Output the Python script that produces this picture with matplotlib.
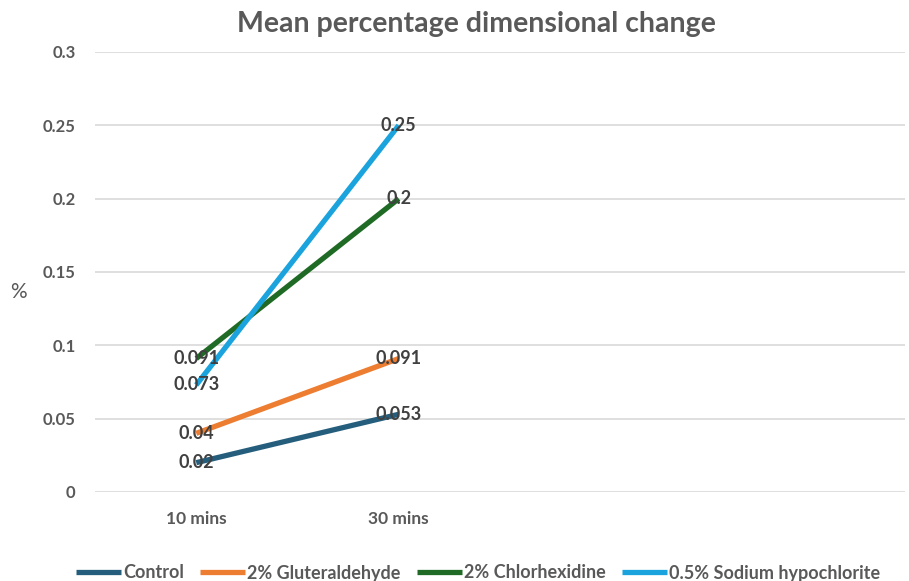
import matplotlib
matplotlib.use("Agg")
from matplotlib import pyplot as plt

plt.rcParams['font.family'] = ['Lato', 'DejaVu Sans']

categories = ["10 mins", "30 mins", "", ""]
series_names = ["Control", "2% Gluteraldehyde", "2% Chlorhexidine", "0.5% Sodium hypochlorite"]
control = [0.02, 0.053]
gluteraldehyde = [0.04, 0.091]
chlorhexidine = [0.091, 0.2]
hypochlorite = [0.073, 0.25]
colors = ["#255E7C", "#ED7D31", "#1F6B25", "#1AA3DD"]

fig = plt.figure(figsize=(9.09, 5.81), dpi=100)
ax = fig.add_axes([95/909, 1-492/581, 810/909, 440/581])

x = list(range(len(categories)))
for name, vals, c in zip(series_names, [control, gluteraldehyde, chlorhexidine, hypochlorite], colors):
    ax.plot(x[:len(vals)], vals, color=c, lw=3.8, label=name, solid_capstyle='butt')
    for xi, v in zip(x, vals):
        ax.text(xi, v, f"{v:g}", ha='center', va='center', fontsize=13,
                fontweight='bold', color='#404040')

ax.set_xlim(-0.5, len(categories) - 0.5)
ax.set_ylim(0, 0.3)
ax.set_yticks([0, 0.05, 0.1, 0.15, 0.2, 0.25, 0.3])
ax.set_yticklabels(["0", "0.05", "0.1", "0.15", "0.2", "0.25", "0.3"])
ax.set_xticks(x)
ax.set_xticklabels(categories)
ax.grid(axis='y', color='#D9D9D9', lw=1.2)
ax.set_axisbelow(True)
for s in ax.spines.values():
    s.set_visible(False)
ax.tick_params(length=0, labelsize=12, labelcolor='#595959', pad=14)
ax.tick_params(axis='x', labelsize=12.5, pad=14)
for lbl in ax.get_xticklabels() + ax.get_yticklabels():
    lbl.set_fontweight('bold')

fig.text(18/909, 1-292/581, "%", fontsize=15, color='#595959', ha='center', va='center')
fig.text(476/909, 1-24/581, "Mean percentage dimensional change", fontsize=20.5,
         fontweight='bold', color='#595959', ha='center', va='center')

leg = fig.legend(loc='center', bbox_to_anchor=(478/909, 1-573/581), ncol=4, frameon=False,
                 fontsize=13, handlelength=2.5, handletextpad=0.1, columnspacing=0.9)
for t in leg.get_texts():
    t.set_fontweight('bold')
    t.set_color('#595959')

fig.savefig("out.png", dpi=100)
